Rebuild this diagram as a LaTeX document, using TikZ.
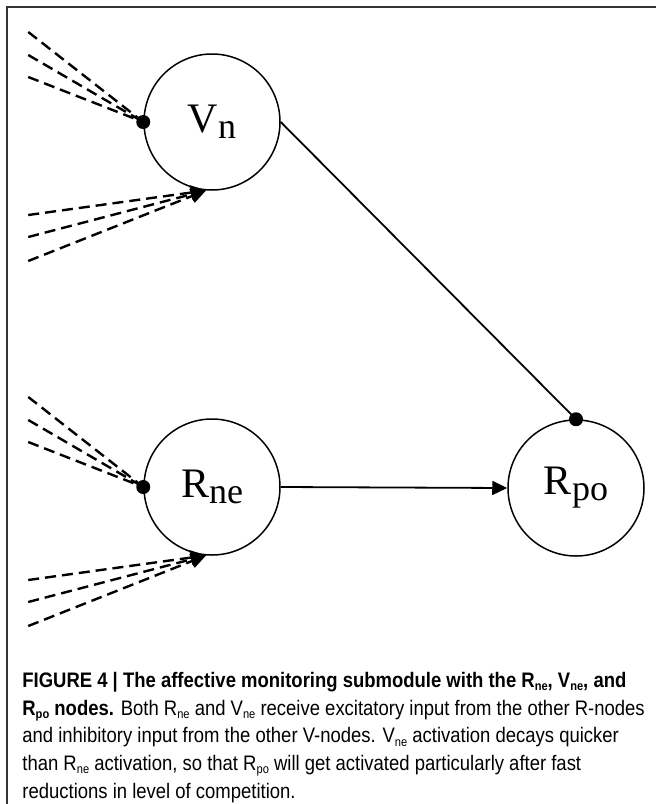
\documentclass[tikz,border=0pt]{standalone}
\usepackage{fontspec}
\setmainfont{Liberation Sans}
\newfontfamily\capfont{Liberation Sans}[FakeStretch=0.88]
\newfontfamily\symfont{Liberation Serif}
\usepackage{tikz}
\usetikzlibrary{arrows, arrows.meta}
\usetikzlibrary{positioning}
\usepackage{xcolor}

\newcommand{\unitname}[2]{{\symfont\fontsize{21}{24}\selectfont #1\raisebox{-3pt}{\fontsize{18}{20}\selectfont #2}}}
\newcommand{\capsub}[1]{\raisebox{-1.6pt}{\fontsize{6.3}{7}\selectfont #1}}

\tikzset{
  unit/.style={circle, draw, line width=0.75pt, minimum size=68pt, inner sep=0pt},
  inhib/.style={dashed, dash pattern=on 5.5pt off 3pt, line width=1.2pt},
  excit/.style={inhib, -{Triangle[length=7.5pt,width=7pt]}},
  link/.style={line width=0.9pt},
  frame/.style={line width=1pt, black!80},
  caption/.style={anchor=north west, inner sep=0pt, align=left,
    font=\capfont\fontsize{10.5}{13.8}\selectfont}
}

\begin{document}
\begin{tikzpicture}[x=0.5pt, y=-0.5pt] % affective monitoring submodule
\useasboundingbox (0,0) rectangle (656,804);

%frame
\draw[frame] (656,7) -- (7,7) -- (7,804);

%units
\node[unit] (vn) at (212,122) {\unitname{V}{n}};
\node[unit] (rne) at (212,487) {\unitname{R}{ne}};
\node[unit] (rpo) at (576,488) {\unitname{R}{po}};

%inputs
\foreach \n in {vn,rne} {
  \foreach \dy [count=\i] in {-90,-67,-45,93,115,139}
    \coordinate (\n-in\i) at ([shift={(-115,\dy)}]\n.west);
  \foreach \i in {1,2,3} \draw[inhib] (\n-in\i) -- (\n.west);
  \foreach \i in {4,5,6} \draw[excit] (\n-in\i) -- (\n.265);
  \fill (\n.west) circle (7);
}

%connections
\draw[link] (vn.east) -- (rpo.north);
\fill (rpo.north) circle (7);
\draw[link, -{Triangle[length=7.5pt,width=7pt]}] (rne.east) -- (rpo.west);

%caption
\node[caption] (cap) at (22,672) {%
{\bfseries FIGURE 4 | The affective monitoring submodule with the R\capsub{ne}, V\capsub{ne}, and}\\
{\bfseries R\capsub{po} nodes.} Both R\capsub{ne} and V\capsub{ne} receive excitatory input from the other R-nodes\\
and inhibitory input from the other V-nodes. V\capsub{ne} activation decays quicker\\
than R\capsub{ne} activation, so that R\capsub{po} will get activated particularly after fast\\
reductions in level of competition.};

\end{tikzpicture}
\end{document}
